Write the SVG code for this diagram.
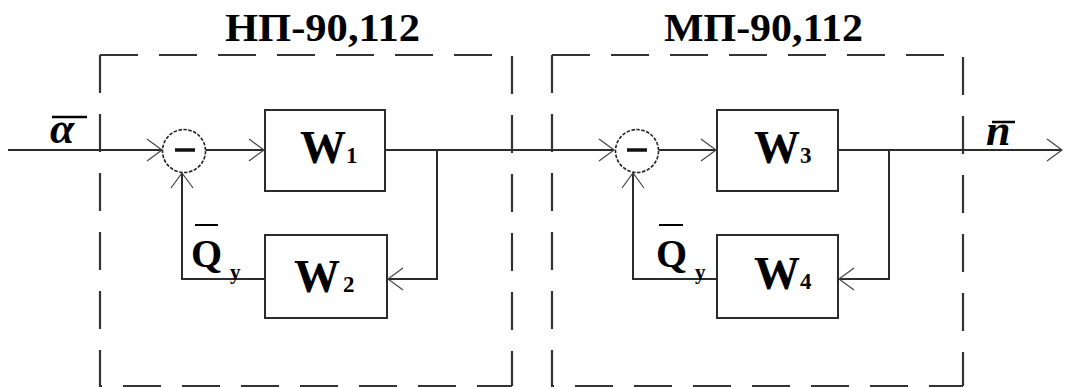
<svg xmlns="http://www.w3.org/2000/svg" width="1065" height="387" viewBox="0 0 1065 387">
<defs>
<style>
.ln{fill:none;stroke:#2b2b2b;stroke-width:2}
.box{fill:#fff;stroke:#2b2b2b;stroke-width:2}
.dash{fill:none;stroke:#333;stroke-width:2.2;stroke-dasharray:38 21}
.sum{fill:#fff;stroke:#222;stroke-width:1.6;stroke-dasharray:3.5 1.5}
.t{font-family:"Liberation Serif","Times New Roman",serif;font-weight:bold;fill:#000}
.ti{font-family:"Liberation Serif","Times New Roman",serif;font-weight:bold;font-style:italic;fill:#000}
</style>
<marker id="arr" markerUnits="userSpaceOnUse" markerWidth="20" markerHeight="24" refX="16" refY="11" orient="auto" overflow="visible">
<path d="M1,0 L16,11 L1,22" fill="none" stroke="#444" stroke-width="1.2"/>
</marker>
</defs>
<rect width="1065" height="387" fill="#fff"/>

<g id="frame-np">
<path class="dash" d="M100,55 H512 V386"/>
<path class="dash" d="M100,55 V386 H512"/>
<text class="t" x="225" y="41" font-size="40" textLength="195" lengthAdjust="spacingAndGlyphs">НП-90,112</text>
</g>
<g id="frame-mp">
<path class="dash" d="M552,55 H963 V386"/>
<path class="dash" d="M552,55 V386 H963"/>
<text class="t" x="664" y="41" font-size="40" textLength="199" lengthAdjust="spacingAndGlyphs">МП-90,112</text>
</g>

<g id="connectors">
<path class="ln" d="M8,150 H162" marker-end="url(#arr)"/>
<path class="ln" d="M206,150 H264" marker-end="url(#arr)"/>
<path class="ln" d="M385,150 H614" marker-end="url(#arr)"/>
<path class="ln" d="M437,150 V279 H388" marker-end="url(#arr)"/>
<path class="ln" d="M265,279 H182 V173" marker-end="url(#arr)"/>
<path class="ln" d="M659,150 H716" marker-end="url(#arr)"/>
<path class="ln" d="M838,150 H1062" marker-end="url(#arr)"/>
<path class="ln" d="M889,150 V279 H839" marker-end="url(#arr)"/>
<path class="ln" d="M717,279 H633 V173" marker-end="url(#arr)"/>
</g>

<g id="sum1">
<circle class="sum" cx="184" cy="151" r="21.5"/>
<path d="M175,150 H195" stroke="#111" stroke-width="3.5"/>
</g>
<g id="sum2">
<circle class="sum" cx="637" cy="151" r="21.5"/>
<path d="M627,150 H647" stroke="#111" stroke-width="3.5"/>
</g>

<g id="W1">
<rect class="box" x="265" y="110" width="120" height="81"/>
<text class="t" x="300" y="163" font-size="46">W<tspan font-size="23">1</tspan></text>
</g>
<g id="W2">
<rect class="box" x="265" y="235" width="122" height="83"/>
<text class="t" x="294" y="292" font-size="46">W<tspan font-size="23" dx="3">2</tspan></text>
</g>
<g id="W3">
<rect class="box" x="717" y="110" width="121" height="81"/>
<text class="t" x="754" y="163" font-size="46">W<tspan font-size="23">3</tspan></text>
</g>
<g id="W4">
<rect class="box" x="717" y="235" width="121" height="83"/>
<text class="t" x="754" y="289" font-size="46">W<tspan font-size="23">4</tspan></text>
</g>

<g id="labels">
<text class="ti" x="50" y="143" font-size="44">α</text>
<path d="M52,117 H87" stroke="#000" stroke-width="2.5"/>
<text class="ti" x="986" y="145" font-size="44">n</text>
<path d="M992,122 H1015" stroke="#000" stroke-width="2.5"/>
<text class="t" x="191" y="267" font-size="40">Q</text>
<path d="M195,225 H218" stroke="#000" stroke-width="2"/>
<text class="t" x="230" y="279" font-size="21">y</text>
<text class="t" x="656" y="267" font-size="40">Q</text>
<path d="M659,225 H683" stroke="#000" stroke-width="2"/>
<text class="t" x="695" y="279" font-size="21">y</text>
</g>
</svg>
